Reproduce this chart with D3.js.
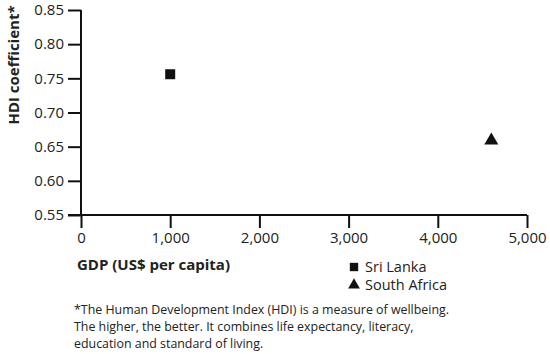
<!DOCTYPE html>
<html>
<head>
<meta charset="utf-8">
<script src="https://cdn.jsdelivr.net/npm/d3@7"></script>
<style>
  body { margin: 0; background: #fff; }
  svg text { font-family: "Open Sans", sans-serif; fill: #222; }
</style>
</head>
<body>
<script>
// data
const countries = ["Sri Lanka", "South Africa"];
const gdp = [1000, 4600];
const hdi = [0.756, 0.659];
const symbols = ["square", "triangle"];
const xTicks = [0, 1000, 2000, 3000, 4000, 5000];
const yTicks = [0.55, 0.60, 0.65, 0.70, 0.75, 0.80, 0.85];
const footnote = [
  "*The Human Development Index (HDI) is a measure of wellbeing.",
  "The higher, the better. It combines life expectancy, literacy,",
  "education and standard of living."
];

const width = 550, height = 354;
const svg = d3.select("body").append("svg")
  .attr("width", width).attr("height", height);

const x = d3.scaleLinear().domain([0, 5000]).range([81, 527]);
const y = d3.scaleLinear().domain([0.55, 0.85]).range([215, 10]);

const xAxis = svg.append("g")
  .attr("transform", "translate(0," + y(0.55) + ")")
  .call(d3.axisBottom(x).tickValues(xTicks).tickSize(13).tickPadding(4)
    .tickFormat(d3.format(",")));
const yAxis = svg.append("g")
  .attr("transform", "translate(" + x(0) + ",0)")
  .call(d3.axisLeft(y).tickValues(yTicks).tickSize(13).tickPadding(4)
    .tickFormat(d3.format(".2f")));

[xAxis, yAxis].forEach(g => {
  g.select(".domain").attr("stroke", "#111").attr("stroke-width", 2);
  g.selectAll(".tick line").attr("stroke", "#111").attr("stroke-width", 2);
  g.selectAll(".tick text").style("font-size", "15px").attr("fill", "#333");
});
// x axis line runs out to the left with the y tick
xAxis.select(".domain").attr("d", "M" + (x(0) - 13) + ",0H" + x(5000));
yAxis.select(".domain").attr("d", "M0," + y(0.85) + "V" + y(0.55));

const shape = {
  square: d3.symbol().type(d3.symbolSquare).size(100),
  triangle: d3.symbol().type(d3.symbolTriangle).size(85)
};

svg.selectAll(".pt").data(countries).enter()
  .append("path")
  .attr("class", "pt")
  .attr("d", (d, i) => shape[symbols[i]]())
  .attr("transform", (d, i) => "translate(" + x(gdp[i]) + "," + y(hdi[i]) + ")")
  .attr("fill", "#111");

// axis titles
svg.append("text")
  .attr("transform", "translate(19,65) rotate(-90)")
  .attr("text-anchor", "middle")
  .style("font-size", "15px").style("font-weight", "bold")
  .text("HDI coefficient*");
svg.append("text")
  .attr("x", 77).attr("y", 270)
  .style("font-size", "15px").style("font-weight", "bold")
  .text("GDP (US$ per capita)");

// legend
const leg = svg.selectAll(".leg").data(countries).enter()
  .append("g").attr("class", "leg")
  .attr("transform", (d, i) => "translate(354," + (267 + i * 18) + ")");
leg.append("path")
  .attr("d", (d, i) => d3.symbol().type(i ? d3.symbolTriangle : d3.symbolSquare).size(i ? 60 : 70)())
  .attr("fill", "#111");
leg.append("text")
  .attr("x", 11).attr("dy", "0.35em")
  .style("font-size", "14.5px").attr("fill", "#333")
  .text(d => d);

// footnote
svg.append("g").selectAll("text").data(footnote).enter()
  .append("text")
  .attr("x", 74).attr("y", (d, i) => 314 + i * 17)
  .style("font-size", "12.4px").attr("fill", "#333")
  .text(d => d);
</script>
</body>
</html>
